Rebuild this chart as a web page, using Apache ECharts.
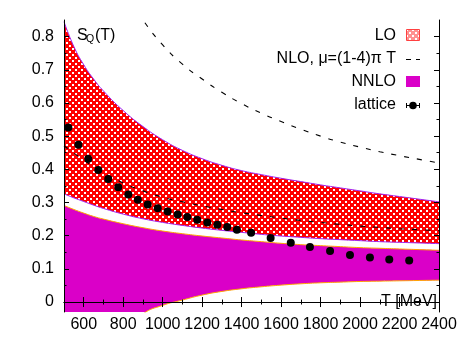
<!DOCTYPE html>
<html>
<head>
<meta charset="utf-8">
<script src="https://cdn.jsdelivr.net/npm/echarts@6/dist/echarts.min.js"></script>
<style>
  html, body { margin: 0; padding: 0; background: #fff; }
  #chart { width: 469px; height: 345px; }
</style>
</head>
<body>
<div id="chart"></div>
<script>
// temperature grid of the perturbative bands (MeV)
var bandT = [500, 550, 600, 650, 700, 800, 900, 1000, 1100, 1200, 1300, 1400, 1500,
  1600, 1700, 1800, 1900, 2000, 2100, 2200, 2300, 2400];
var loUpper = [0.845, 0.77, 0.715, 0.672, 0.636, 0.577, 0.529, 0.489, 0.457, 0.432, 0.412,
  0.396, 0.384, 0.373, 0.363, 0.353, 0.344, 0.335, 0.326, 0.318, 0.31, 0.302];
var loLower = [0.326, 0.314, 0.303, 0.292, 0.282, 0.265, 0.251, 0.24, 0.231, 0.223, 0.216,
  0.21, 0.204, 0.199, 0.195, 0.191, 0.188, 0.185, 0.182, 0.18, 0.178, 0.176];
var nnloUpper = [0.291, 0.279, 0.268, 0.258, 0.25, 0.236, 0.224, 0.214, 0.206, 0.199, 0.193,
  0.187, 0.182, 0.177, 0.173, 0.17, 0.167, 0.164, 0.162, 0.16, 0.158, 0.156];
var nnloLower = [-0.9, -0.6, -0.42, -0.3, -0.2, -0.095, -0.036, -0.01, 0.006, 0.021, 0.032,
  0.04, 0.046, 0.051, 0.055, 0.058, 0.06, 0.062, 0.063, 0.064, 0.065, 0.066];

// NLO curves, mu = pi T and mu = 4 pi T
var nloHiT = [800, 900, 1000, 1100, 1200, 1300, 1400, 1500, 1600, 1700, 1800, 1900, 2000,
  2100, 2200, 2300, 2400];
var nloHi = [0.94, 0.85, 0.775, 0.717, 0.672, 0.632, 0.598, 0.569, 0.544, 0.521, 0.5, 0.482,
  0.467, 0.453, 0.441, 0.43, 0.419];
var nloLoT = [500, 600, 700, 800, 900, 1000, 1100, 1200, 1300, 1400, 1500, 1600, 1700, 1800,
  1900, 2000, 2100, 2200, 2300, 2400];
var nloLo = [0.471, 0.428, 0.39, 0.359, 0.335, 0.316, 0.302, 0.29, 0.279, 0.269, 0.261, 0.253,
  0.246, 0.24, 0.234, 0.229, 0.225, 0.221, 0.218, 0.215];

// lattice data
var latT = [522, 573, 623, 674, 724, 775, 826, 874, 924, 975, 1025, 1076, 1125, 1175, 1226,
  1277, 1327, 1376, 1448, 1547, 1649, 1746, 1848, 1949, 2050, 2148, 2249];
var latS = [0.526, 0.474, 0.432, 0.398, 0.371, 0.346, 0.324, 0.308, 0.294, 0.283, 0.273, 0.264,
  0.256, 0.248, 0.24, 0.233, 0.226, 0.218, 0.209, 0.193, 0.179, 0.166, 0.154, 0.142, 0.134,
  0.128, 0.125];

// ticks
var xMajor = [600, 800, 1000, 1200, 1400, 1600, 1800, 2000, 2200, 2400];
var xMinor = [700, 900, 1100, 1300, 1500, 1700, 1900, 2100, 2300];
var yMajor = [0, 0.1, 0.2, 0.3, 0.4, 0.5, 0.6, 0.7, 0.8];
var yMinor = [0.05, 0.15, 0.25, 0.35, 0.45, 0.55, 0.65, 0.75];

var FONT = 'Liberation Sans, Arial, Helvetica, sans-serif';
var FS = 16;
var PURPLE = '#a020f0', ORANGE = '#ffa500', MAGENTA = '#da00c8';

// red crosshatch: 2x2 white holes on a staggered 6px lattice
function hatch(red, w, h) {
  var c = document.createElement('canvas');
  c.width = w || 6; c.height = h || 6;
  var g = c.getContext('2d');
  g.fillStyle = red; g.fillRect(0, 0, c.width, c.height);
  g.fillStyle = '#fff';
  for (var y = 0; y < c.height; y++) {
    for (var x = 0; x < c.width; x++) {
      var a = x % 6, b = y % 6;
      if ((a < 2 && b < 2) || (a >= 3 && a < 5 && b >= 3 && b < 5)) g.fillRect(x, y, 1, 1);
    }
  }
  return c;
}

function zip(xs, ys) { return xs.map(function (x, i) { return [x, ys[i]]; }); }

function xAx(pos, ticks, len, main) {
  return {
    type: 'value', position: pos, min: 500, max: 2400, z: 10,
    axisLine: { show: main, lineStyle: { color: '#000', width: 1 } },
    axisTick: { show: true, inside: true, length: len, customValues: ticks, lineStyle: { color: '#000' } },
    axisLabel: { show: main && pos === 'bottom', customValues: ticks, margin: 5, fontSize: FS, color: '#000',
      fontFamily: FONT, formatter: function (v) { return String(v); } },
    splitLine: { show: false }
  };
}
function yAx(pos, ticks, len, main) {
  return {
    type: 'value', position: pos, min: -0.03, max: 0.85, z: 10,
    axisLine: { show: main, lineStyle: { color: '#000', width: 1 } },
    axisTick: { show: true, inside: true, length: len, customValues: ticks, lineStyle: { color: '#000' } },
    axisLabel: { show: main && pos === 'left', customValues: ticks, margin: 10, fontSize: FS, color: '#000',
      fontFamily: FONT, formatter: function (v) { return String(v); } },
    splitLine: { show: false }
  };
}

function band(name, data, color, fill, z) {
  return { name: name, type: 'line', data: data, smooth: true, symbol: 'none', z: z,
    lineStyle: { color: color, width: 1 },
    areaStyle: { color: fill, opacity: 1, origin: 'start' } };
}

var chart = echarts.init(document.getElementById('chart'));
var pattern = { image: hatch('#ff0000'), repeat: 'repeat' };
var swatch = hatch('#ff9090', 13, 11).toDataURL();

var LEG = { font: FS + 'px ' + FONT, fill: '#000', align: 'right', textAlign: 'right',
  verticalAlign: 'middle', textVerticalAlign: 'middle' };
function legText(txt, y) {
  return { type: 'text', x: 396, y: y, style: Object.assign({ text: txt }, LEG) };
}

var option = {
  animation: false,
  backgroundColor: '#fff',
  grid: { left: 64, right: 30, top: 20, bottom: 33 },
  xAxis: [xAx('bottom', xMajor, 5, true), xAx('bottom', xMinor, 2.5, false),
          xAx('top', xMajor, 5, true), xAx('top', xMinor, 2.5, false)],
  yAxis: [yAx('left', yMajor, 5, true), yAx('left', yMinor, 2.5, false),
          yAx('right', yMajor, 5, true), yAx('right', yMinor, 2.5, false)],
  series: [
    // bands are layered: upper edge filled down, lower edge wiped back to white
    band('LO', zip(bandT, loUpper), PURPLE, pattern, 1),
    band('LO lower', zip(bandT, loLower), PURPLE, '#fff', 2),
    band('NNLO', zip(bandT, nnloUpper), ORANGE, MAGENTA, 3),
    band('NNLO lower', zip(bandT, nnloLower), ORANGE, '#fff', 4),
    { name: 'NLO pi T', type: 'line', data: zip(nloHiT, nloHi), smooth: true, symbol: 'none',
      lineStyle: { color: '#000', width: 1.1, type: [5, 8] }, z: 5 },
    { name: 'NLO 4 pi T', type: 'line', data: zip(nloLoT, nloLo), smooth: true, symbol: 'none',
      lineStyle: { color: '#000', width: 1.1, type: [5, 8] }, z: 5 },
    { name: 'lattice', type: 'scatter', data: zip(latT, latS), symbol: 'circle', symbolSize: 8,
      itemStyle: { color: '#000', opacity: 1 }, z: 6 }
  ],
  graphic: [
    { type: 'text', x: 77, y: 35.5, style: { text: 'S', font: FS + 'px ' + FONT, fill: '#000', verticalAlign: 'middle', textVerticalAlign: 'middle' } },
    { type: 'text', x: 86, y: 39, style: { text: 'Q', font: '10.5px ' + FONT, fill: '#000', verticalAlign: 'middle', textVerticalAlign: 'middle' } },
    { type: 'text', x: 95, y: 35.8, style: { text: '(T)', font: FS + 'px ' + FONT, fill: '#000', verticalAlign: 'middle', textVerticalAlign: 'middle' } },
    { type: 'text', x: 437, y: 301.5, z: 20, style: Object.assign({ text: 'T [MeV]' }, LEG) },

    legText('LO', 35.5),
    { type: 'image', x: 406, y: 29, style: { image: swatch, width: 13, height: 11 } },
    { type: 'rect', shape: { x: 406.5, y: 29.5, width: 13, height: 11 }, style: { fill: null, stroke: '#ff4040', lineWidth: 1 } },
    legText('NLO, \u03bc=(1-4)\u03c0 T', 58.5),
    { type: 'line', shape: { x1: 406, y1: 59.5, x2: 420, y2: 59.5 }, style: { stroke: '#000', lineWidth: 1, lineDash: [5, 5] } },
    legText('NNLO', 81.5),
    { type: 'rect', shape: { x: 406, y: 76, width: 14, height: 11 }, style: { fill: MAGENTA } },
    legText('lattice', 104.5),
    { type: 'line', shape: { x1: 406, y1: 105.5, x2: 420, y2: 105.5 }, style: { stroke: '#000', lineWidth: 1 } },
    { type: 'line', shape: { x1: 406.5, y1: 103, x2: 406.5, y2: 108 }, style: { stroke: '#000', lineWidth: 1 } },
    { type: 'line', shape: { x1: 419.5, y1: 103, x2: 419.5, y2: 108 }, style: { stroke: '#000', lineWidth: 1 } },
    { type: 'circle', shape: { cx: 413, cy: 105.5, r: 3.8 }, style: { fill: '#000' } }
  ]
};
chart.setOption(option);
</script>
</body>
</html>
